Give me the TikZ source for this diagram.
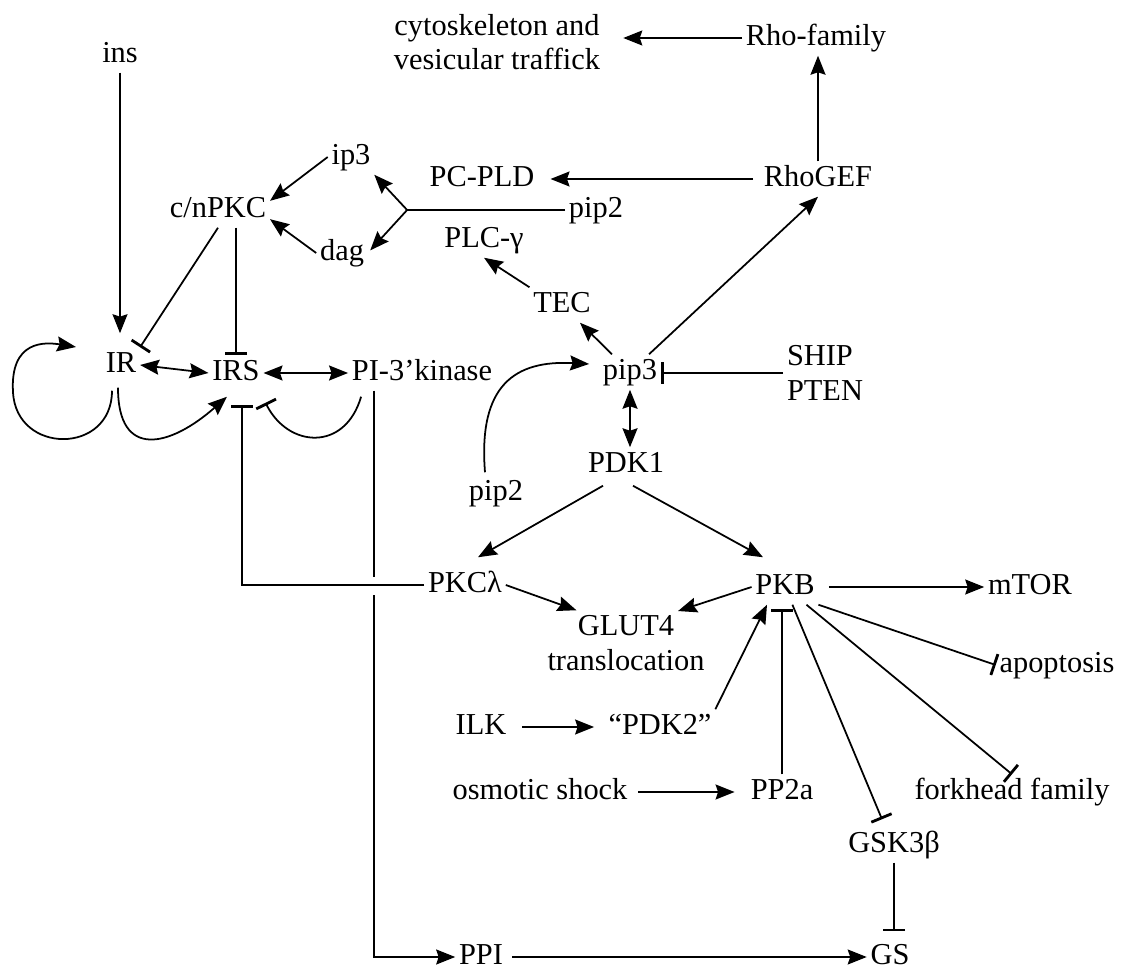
\documentclass[tikz,border=0pt]{standalone}
\usepackage{fontspec}
\setmainfont{Liberation Serif}
\usetikzlibrary{arrows.meta,positioning,calc}
\begin{document}
\begin{tikzpicture}[
  x=0.02cm,y=-0.02cm,
  lbl/.style={inner sep=2pt,font=\fontsize{17.3}{19.5}\selectfont},
  one/.style={lbl,text height=12pt,text depth=3.8pt},
  two/.style={lbl,align=center},
  conn/.style={line width=1pt},
  act/.style={conn,-{Stealth[length=3.8mm,width=3mm,inset=0.5mm]}},
  dbl/.style={conn,{Stealth[length=3.8mm,width=3mm,inset=0.5mm]}-{Stealth[length=3.8mm,width=3mm,inset=0.5mm]}},
  inh/.style={conn,-{Bar[width=4.4mm,line width=1.6pt]}}]
\useasboundingbox (0,0) rectangle (1126,969);
\node[one] (ins) at (120,55) {ins};
\node[two] (cyto) at (497,42) {cytoskeleton and\\vesicular traffick};
\node[one] (rho) at (816,38) {Rho-family};
\node[one] (ip3) at (351,157) {ip3};
\node[one] (pcpld) at (482,179) {PC-PLD};
\node[one] (rhogef) at (818,179) {RhoGEF};
\node[one] (cnpkc) at (218,210) {c/nPKC};
\node[one] (pip2t) at (596,210) {pip2};
\node[one] (dag) at (342,253) {dag};
\node[one] (plcg) at (484,240) {PLC-γ};
\node[one] (tec) at (562,305) {TEC};
\node[one] (ir) at (121,365) {IR};
\node[one] (irs) at (236,373) {IRS};
\node[one] (pik) at (422,373) {PI-3’kinase};
\node[one] (pip3) at (630,372) {pip3};
\node[lbl,align=left] (ship) at (825,373) {SHIP\\PTEN};
\node[one] (pdk1) at (626,465) {PDK1};
\node[one] (pip2b) at (496,493) {pip2};
\node[one] (pkcl) at (465,585) {PKCλ};
\node[one] (pkb) at (785,587) {PKB};
\node[one] (mtor) at (1030,587) {mTOR};
\node[one] (glut) at (626,628) {GLUT4};
\node[one,below=0pt of glut] (transl) {translocation};
\node[one] (apopt) at (1057,665) {apoptosis};
\node[one] (ilk) at (481,727) {ILK};
\node[one] (pdk2) at (660,727) {“PDK2”};
\node[one] (osm) at (540,792) {osmotic shock};
\node[one] (pp2a) at (782,792) {PP2a};
\node[one] (fork) at (1012,792) {forkhead family};
\node[one] (gsk) at (894,845) {GSK3β};
\node[one] (ppi) at (481,957) {PPI};
\node[one] (gs) at (890,957) {GS};
\draw[act,shorten >=8pt] (ins.south) -- (ins.south |- ir.north);
\draw[inh] (cnpkc.south) -- (ir.north east);
\draw[inh] (cnpkc.south -| irs.north) -- (irs.north);
\draw[dbl] (ir.east) -- (irs.west);
\draw[dbl] (irs.east) -- (pik.west);
\draw[act] ($(ir.south)+(-9,8)$) .. controls (112,455) and (16,455) .. (13,392)
  .. controls (10,340) and (45,342) .. ($(ir.west)+(-26,-18)$);
\draw[act] ($(ir.south)+(-3,5)$) .. controls (118,460) and (170,447) .. ($(irs.south)+(-9,6)$);
\draw[inh] ($(pik.south west)+(13,6)$) .. controls (345,452) and (288,448) .. ($(irs.south east)+(2,12)$);
\draw[inh] (pkcl.west) -| ($(irs.south)+(6,14)$);
\coordinate (drop) at ($(pik.south west)+(26,0)$);
\draw[conn] (drop) -- ($(drop |- pkcl)+(0,-8)$);
\draw[act] ($(drop |- pkcl)+(0,10)$) |- (ppi.west);
\draw[act] ($(pip2b.north)+(-11,-3)$) .. controls (478,385) and (515,360) .. ($(pip3.west)+(-10,-8)$);
\draw[inh] (ship.west) -- (ship.west -| pip3.east);
\draw[dbl] (pip3.south) -- (pip3.south |- pdk1.north);
\draw[act] (pip3) -- (tec);
\draw[act] (tec.north west) -- (plcg.south);
\draw[act] (pip3) -- (rhogef.south);
\draw[act,shorten >=7pt,shorten <=4pt] (rhogef.west) -- (rhogef.west -| pcpld.east);
\draw[act] (rhogef.north) -- (rhogef.north |- rho.south);
\draw[act,shorten >=11pt] (rho.west) -- (rho.west -| cyto.east);
\coordinate (split) at ($(pip2t.west)+(-158,0)$);
\draw[conn] (pip2t.west) -- (split);
\draw[act] (split) -- (ip3.south east);
\draw[act,shorten >=2pt] (split) -- (dag.east);
\draw[act] (ip3.west) -- (cnpkc.10);
\draw[act] (dag.west) -- (cnpkc.-10);
\draw[act] ($(pdk1.south)+(-23,3)$) -- ($(pkcl.north)+(13,-10)$);
\draw[act] ($(pdk1.south)+(7,3)$) -- ($(pkb.north)+(-22,-12)$);
\draw[act] (pkcl.east) -- (glut);
\draw[act] (pkb.west) -- (glut);
\draw[act,shorten <=6pt] (pkb.east) -- (mtor.west);
\draw[inh] (pkb.south east) -- (apopt.west);
\draw[inh] (pkb) -- (fork.north);
\draw[inh] (pkb) -- ($(gsk.north)+(-12,-8)$);
\draw[inh,shorten >=2.5pt] (pp2a.north) -- (pp2a.north |- pkb.south);
\draw[act] (pdk2.north east) -- ($(pkb.south)+(-18,0)$);
\draw[act,shorten <=7pt,shorten >=6pt] (ilk.east) -- (pdk2.west);
\draw[act,shorten <=4pt,shorten >=7pt] (osm.east) -- (pp2a.west);
\draw[inh,shorten >=4.5pt] (gsk.south) -- (gsk.south |- gs.north);
\draw[act,shorten <=3pt] (ppi.east) -- (gs.west);
\end{tikzpicture}
\end{document}
